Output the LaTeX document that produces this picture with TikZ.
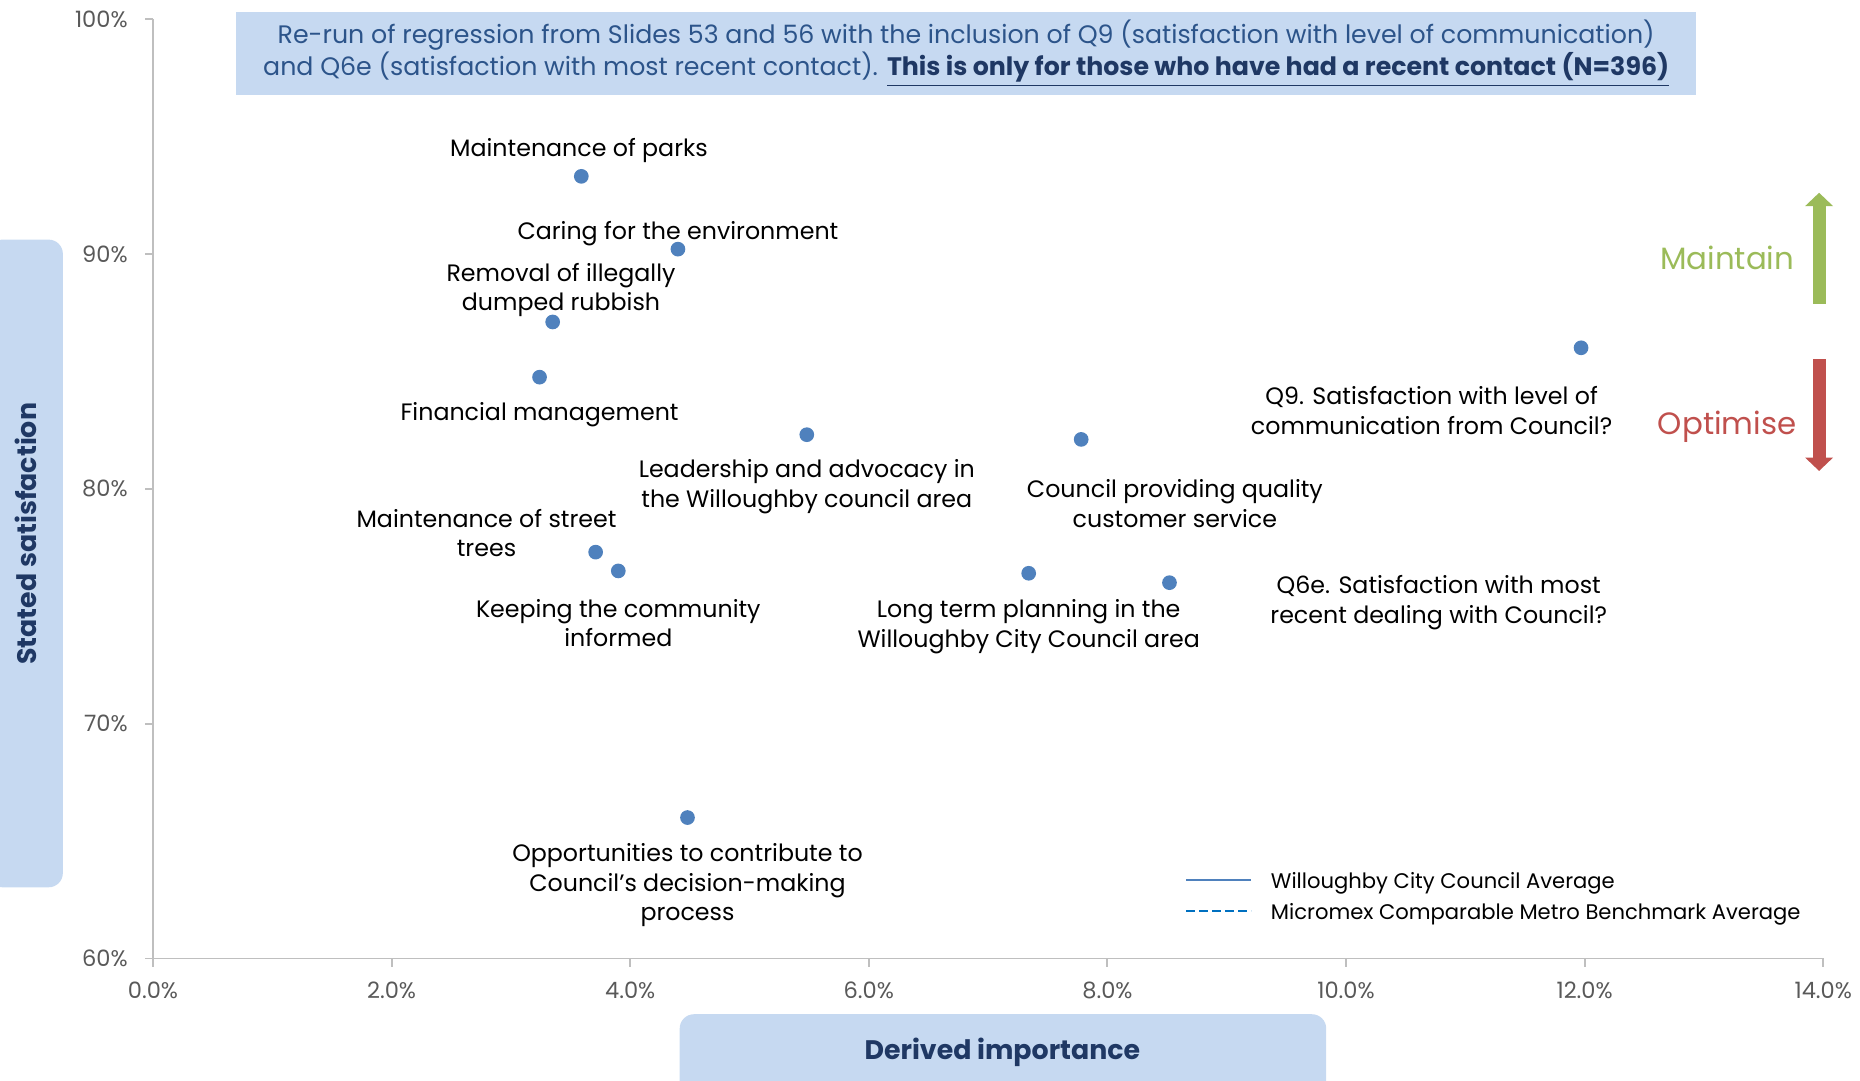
\documentclass[tikz,border=0pt]{standalone}
\usepackage{fontspec}
\setmainfont{Poppins}
\usetikzlibrary{positioning,arrows.meta}
\definecolor{boxblue}{RGB}{198,217,241}
\definecolor{titleblue}{RGB}{44,84,138}
\definecolor{navy}{RGB}{31,56,100}
\definecolor{dotblue}{RGB}{79,129,189}
\definecolor{axisgray}{RGB}{191,191,191}
\definecolor{tickgray}{RGB}{89,89,89}
\definecolor{keepgreen}{RGB}{155,187,89}
\definecolor{fixred}{RGB}{192,80,77}
\definecolor{benchblue}{RGB}{0,112,192}

\begin{document}
\begin{tikzpicture}[x=0.5pt, y=0.5pt]
    \tikzstyle{item dot}=[circle, fill=dotblue, minimum size=6.2pt, inner sep=0pt]
    \tikzstyle{annot}=[align=center, inner sep=0pt, font=\fontsize{10}{12.5}\selectfont]
    \tikzstyle{frame line}=[draw=axisgray, line width=0.8pt]
    \tikzstyle{tick label}=[text=tickgray, inner sep=0pt, font=\fontsize{9.5}{11}\selectfont]
    \tikzstyle{panel}=[fill=boxblue, rounded corners=6pt, inner sep=0pt]
    \tikzstyle{axis title}=[text=navy, inner sep=0pt, font=\bfseries\fontsize{11.3}{14}\selectfont]
    \tikzstyle{legend text}=[anchor=west, inner sep=0pt, font=\fontsize{8.9}{11}\selectfont]
    \tikzstyle{big arrow}=[line width=5.4pt, -{Triangle[width=11.4pt,length=5.6pt]}]
    \useasboundingbox (-129,-103) rectangle (1439,808);

    % Title and axis boxes
    \node[fill=boxblue, minimum width=615.5pt, minimum height=35pt, align=center, text=titleblue,
          font=\fontsize{10.65}{13.5}\selectfont] (Title) at (685.5,763)
        {Re-run of regression from Slides 53 and 56 with the inclusion of Q9 (satisfaction with level of communication)\\
         and Q6e (satisfaction with most recent contact). {\bfseries\color{navy}\underline{This is only for those who have had a recent contact (N=396)}}};
    \node[panel, minimum width=31.5pt, minimum height=273pt] (YBox) at (-107.5,333) {};
    \node[axis title, rotate=90] (YLab) at (-107,358) {Stated satisfaction};
    \node[panel, minimum width=272.5pt, minimum height=35pt] (XBox) at (716.5,-82) {};
    \node[axis title] (XLab) at (716,-79) {Derived importance};

    \begin{scope}[x=50.286pt, y=9.9pt, yshift=-594pt]
    % Draw the axes
    \draw[frame line] (0,100) -- (0,60) -- (14,60);
    \foreach \v in {60,70,...,100} {
        \draw[frame line] (0,\v) -- ++(-3.5pt,0);
        \node[tick label, anchor=east] (YT-\v) at ([xshift=-10.5pt]0,\v) {\v\%};
    }
    \foreach \v in {0,2,...,14} {
        \draw[frame line] (\v,60) -- ++(0,-3.5pt);
        \node[tick label] (XT-\v) at ([yshift=-13.5pt]\v,60) {\v.0\%};
    }

    % Draw the data points
    \node[item dot] (P-1) at (3.59,93.3) {};
    \node[item dot] (P-2) at (4.40,90.2) {};
    \node[item dot] (P-3) at (3.35,87.1) {};
    \node[item dot] (P-4) at (3.24,84.75) {};
    \node[item dot] (P-5) at (5.48,82.3) {};
    \node[item dot] (P-6) at (7.78,82.1) {};
    \node[item dot] (P-7) at (11.97,86.0) {};
    \node[item dot] (P-8) at (3.71,77.3) {};
    \node[item dot] (P-9) at (3.90,76.5) {};
    \node[item dot] (P-10) at (7.34,76.4) {};
    \node[item dot] (P-11) at (8.52,76.0) {};
    \node[item dot] (P-12) at (4.48,66.0) {};

    % Annotate the points
    \node[annot, above of=P-1, node distance=11pt, xshift=-1pt] {Maintenance of parks};
    \node[annot, above of=P-2, node distance=6.5pt] {Caring for the environment};
    \node[annot, above of=P-3, node distance=13.5pt, xshift=3.5pt] {Removal of illegally\\dumped rubbish};
    \node[annot, below of=P-4, node distance=16pt] {Financial management};
    \node[annot, below of=P-5, node distance=22pt] {Leadership and advocacy in\\the Willoughby council area};
    \node[annot, below of=P-6, node distance=27pt, xshift=39.5pt] {Council providing quality\\customer service};
    \node[annot, below of=P-7, node distance=26.5pt, xshift=-63pt] {Q9. Satisfaction with level of\\communication from Council?};
    \node[annot, above of=P-8, node distance=8pt, xshift=-46pt] {Maintenance of street\\trees};
    \node[annot, below of=P-9, node distance=22pt] {Keeping the community\\informed};
    \node[annot, below of=P-10, node distance=22.5pt] {Long term planning in the\\Willoughby City Council area};
    \node[annot, below of=P-11, node distance=8.5pt, xshift=113.5pt] {Q6e. Satisfaction with most\\recent dealing with Council?};
    \node[annot, below of=P-12, node distance=28.5pt] {Opportunities to contribute to\\Council’s decision-making\\process};
    \end{scope}

    % Maintain / Optimise
    \node[text=keepgreen, inner sep=0pt, font=\fontsize{13}{15}\selectfont] (Keep) at (1327,591) {Maintain};
    \node[text=fixred, inner sep=0pt, font=\fontsize{13}{15}\selectfont] (Fix) at (1327,448) {Optimise};
    \coordinate (Keep-base) at (1404.5,552);
    \coordinate (Keep-tip) at (1404.5,645.5);
    \coordinate (Fix-base) at (1404.5,505);
    \coordinate (Fix-tip) at (1404.5,411);
    \draw[big arrow, keepgreen] (Keep-base) -- (Keep-tip);
    \draw[big arrow, fixred] (Fix-base) -- (Fix-tip);

    % Legend
    \coordinate (L1a) at (871,66);
    \coordinate (L1b) at (926,66);
    \coordinate (L2a) at (871,40);
    \coordinate (L2b) at (926,40);
    \draw[line width=0.9pt, dotblue] (L1a) -- (L1b);
    \draw[line width=0.9pt, benchblue, dash pattern=on 3.5pt off 2pt] (L2a) -- (L2b);
    \node[legend text] (L1) at (942,63) {Willoughby City Council Average};
    \node[legend text] (L2) at (942,37) {Micromex Comparable Metro Benchmark Average};
\end{tikzpicture}
\end{document}
